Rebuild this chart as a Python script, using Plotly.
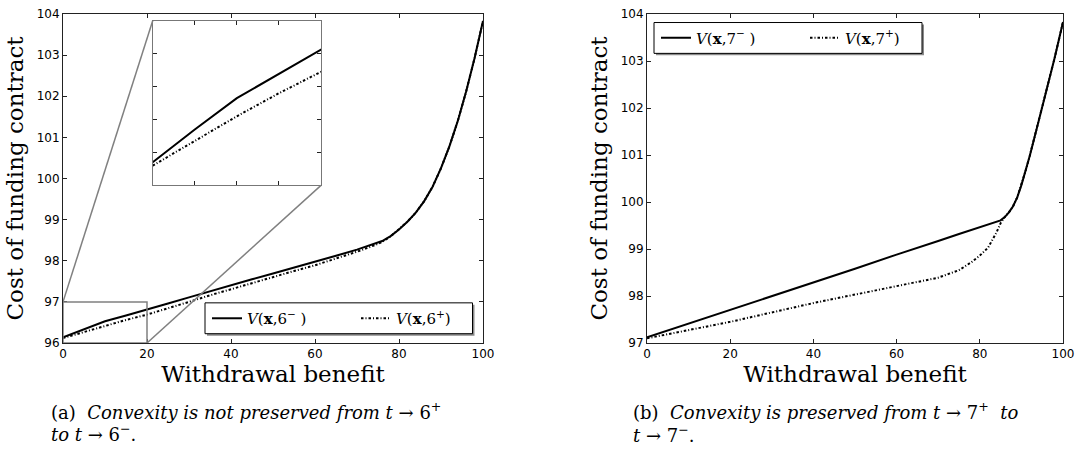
import plotly.graph_objects as go

# ---------------- data ----------------
x_a = [0, 5, 10, 15, 20, 25, 30, 35, 40, 45, 50, 55, 60, 65, 70, 74, 76, 78, 80, 82, 84, 86, 88, 90, 92, 94, 96, 98, 100]
v6_minus = [96.14, 96.34, 96.53, 96.67, 96.81, 96.96, 97.11, 97.26, 97.41, 97.55, 97.69, 97.83, 97.97, 98.12, 98.27,
            98.40, 98.48, 98.60, 98.76, 98.95, 99.17, 99.45, 99.80, 100.25, 100.78, 101.40, 102.12, 102.93, 103.83]
v6_plus = [96.12, 96.27, 96.42, 96.56, 96.69, 96.84, 97.00, 97.16, 97.31, 97.46, 97.60, 97.75, 97.89, 98.05, 98.22,
           98.37, 98.46, 98.59, 98.76, 98.95, 99.17, 99.45, 99.80, 100.25, 100.78, 101.40, 102.12, 102.93, 103.83]

x_b = [0, 10, 20, 30, 40, 50, 60, 65, 70, 75, 78, 80, 82, 84, 85, 86, 87, 88, 89, 90, 91, 92, 94, 96, 98, 100]
v7_minus = [97.12, 97.41, 97.70, 98.00, 98.29, 98.58, 98.88, 99.02, 99.17, 99.32, 99.41, 99.47, 99.52, 99.58, 99.61,
            99.68, 99.78, 99.91, 100.10, 100.36, 100.66, 100.98, 101.67, 102.36, 103.07, 103.83]
v7_plus = [97.10, 97.28, 97.45, 97.65, 97.85, 98.03, 98.22, 98.30, 98.39, 98.55, 98.72, 98.86, 99.03, 99.35, 99.55,
           99.68, 99.78, 99.91, 100.10, 100.36, 100.66, 100.98, 101.67, 102.36, 103.07, 103.83]

x_ticks = [0, 20, 40, 60, 80, 100]
y_ticks_a = [96, 97, 98, 99, 100, 101, 102, 103, 104]
y_ticks_b = [97, 98, 99, 100, 101, 102, 103, 104]
zoom_x = [0, 20]
zoom_y = [96, 97]

labels_a = ["<i>V</i>(<b>x</b>,6<sup>−</sup> )", "<i>V</i>(<b>x</b>,6<sup>+</sup>)"]
labels_b = ["<i>V</i>(<b>x</b>,7<sup>−</sup> )", "<i>V</i>(<b>x</b>,7<sup>+</sup>)"]

# ---------------- geometry helpers ----------------
W, H = 1081, 451
ML, MR, MT, MB = 63, 18, 7, 108
PW, PH = W - ML - MR, H - MT - MB


def X(px):
    return (px - ML) / PW


def Y(py):
    return (H - MB - py) / PH


dom_a = [0.0, 0.42]
dom_b = [0.584, 1.0]
dom_y = [0.0, 1.0]
inset_x = [X(152.7), X(321)]
inset_y = [Y(182), Y(14)]

DASH = "2.5px,2px,1px,2px"
SERIF = "DejaVu Serif"

fig = go.Figure()
fig.add_trace(go.Scatter(x=x_a, y=v6_minus, mode="lines", name=labels_a[0], line=dict(color="black", width=2),
                         xaxis="x", yaxis="y", legend="legend"))
fig.add_trace(go.Scatter(x=x_a, y=v6_plus, mode="lines", name=labels_a[1],
                         line=dict(color="black", width=2, dash=DASH), xaxis="x", yaxis="y", legend="legend"))
fig.add_trace(go.Scatter(x=x_b, y=v7_minus, mode="lines", name=labels_b[0], line=dict(color="black", width=2),
                         xaxis="x2", yaxis="y2", legend="legend2"))
fig.add_trace(go.Scatter(x=x_b, y=v7_plus, mode="lines", name=labels_b[1],
                         line=dict(color="black", width=2, dash=DASH), xaxis="x2", yaxis="y2", legend="legend2"))
# inset
fig.add_trace(go.Scatter(x=x_a, y=v6_minus, mode="lines", showlegend=False, line=dict(color="black", width=2),
                         xaxis="x3", yaxis="y3"))
fig.add_trace(go.Scatter(x=x_a, y=v6_plus, mode="lines", showlegend=False,
                         line=dict(color="black", width=2, dash=DASH), xaxis="x3", yaxis="y3"))

tickfont = dict(family="DejaVu Sans", size=12, color="black")
common = dict(showgrid=False, zeroline=False, showline=True, linecolor="#222", linewidth=1, mirror="ticks",
              ticks="inside", ticklen=4, tickwidth=1, tickcolor="#222", tickfont=tickfont)
title_font = dict(family=SERIF, size=23, color="black")

fig.update_layout(
    width=W, height=H, margin=dict(l=ML, r=MR, t=MT, b=MB),
    paper_bgcolor="white", plot_bgcolor="white",
    xaxis=dict(domain=dom_a, range=[0, 100], tickvals=x_ticks, anchor="y",
               title=dict(text="Withdrawal benefit", font=title_font, standoff=0), **common),
    yaxis=dict(domain=dom_y, range=[96, 104], tickvals=y_ticks_a, anchor="x",
               title=dict(text="Cost of funding contract", font=title_font, standoff=6), **common),
    xaxis2=dict(domain=dom_b, range=[0, 100], tickvals=x_ticks, anchor="y2",
                title=dict(text="Withdrawal benefit", font=title_font, standoff=0), **common),
    yaxis2=dict(domain=dom_y, range=[97, 104], tickvals=y_ticks_b, anchor="x2",
                title=dict(text="Cost of funding contract", font=title_font, standoff=6), **common),
    xaxis3=dict(domain=inset_x, range=zoom_x, dtick=5, anchor="y3", showticklabels=False,
                showgrid=False, zeroline=False, showline=True, linecolor="#777", linewidth=1, mirror="ticks",
                ticks="inside", ticklen=4, tickcolor="#222"),
    yaxis3=dict(domain=inset_y, range=zoom_y, dtick=0.2, anchor="x3", showticklabels=False,
                showgrid=False, zeroline=False, showline=True, linecolor="#777", linewidth=1, mirror="ticks",
                ticks="inside", ticklen=4, tickcolor="#222"),
    legend=dict(orientation="h", x=X(207), xanchor="left", y=Y(318), yanchor="middle",
                bgcolor="rgba(0,0,0,0)", borderwidth=0, entrywidthmode="pixels", entrywidth=104,
                font=dict(family=SERIF, size=15, color="black")),
    legend2=dict(orientation="h", x=X(656), xanchor="left", y=Y(31.5), yanchor="middle",
                 bgcolor="rgba(0,0,0,0)", borderwidth=0, entrywidthmode="pixels", entrywidth=104,
                 font=dict(family=SERIF, size=15, color="black")),
    showlegend=True,
)


# main-axes data coordinates of the inset corners
def inset_corner_data(fx, fy):
    xd = (fx - dom_a[0]) / (dom_a[1] - dom_a[0]) * 100
    yd = 96 + (fy - dom_y[0]) / (dom_y[1] - dom_y[0]) * 8
    return xd, yd


tl = inset_corner_data(inset_x[0], inset_y[1])
br = inset_corner_data(inset_x[1], inset_y[0])
gray = dict(color="#808080", width=1.5)
shapes = [
    dict(type="rect", xref="x", yref="y", x0=zoom_x[0], x1=zoom_x[1], y0=zoom_y[0], y1=zoom_y[1], line=gray),
    dict(type="line", xref="x", yref="y", x0=zoom_x[0], y0=zoom_y[1], x1=tl[0], y1=tl[1], line=gray),
    dict(type="line", xref="x", yref="y", x0=zoom_x[1], y0=zoom_y[0], x1=br[0], y1=br[1], line=gray),
]
# legend boxes with drop shadow
for (l, t, r, b) in [(205, 302, 472.5, 333.5), (654, 15.7, 922, 47.2)]:
    shapes.append(dict(type="rect", xref="paper", yref="paper", x0=X(l + 2), x1=X(r + 2), y0=Y(b + 2), y1=Y(t + 2),
                       line=dict(width=0), fillcolor="#8a8a8a", layer="above"))
    shapes.append(dict(type="rect", xref="paper", yref="paper", x0=X(l), x1=X(r), y0=Y(b), y1=Y(t),
                       line=dict(color="black", width=1), fillcolor="white", layer="above"))
fig.update_layout(shapes=shapes)

cap_font = dict(family=SERIF, size=18, color="black")
captions = [
    (49, 412, "(a)  <i>Convexity is not preserved from t</i> → 6<sup>+</sup>"),
    (49, 435, "<i>to t</i> → 6<sup>−</sup>."),
    (631, 412, "(b)  <i>Convexity is preserved from t</i> → 7<sup>+</sup>  <i>to</i>"),
    (631, 436, "<i>t</i> → 7<sup>−</sup>."),
]
for (px, py, txt) in captions:
    fig.add_annotation(text=txt, xref="paper", yref="paper", x=X(px), y=Y(py), xanchor="left", yanchor="middle",
                       showarrow=False, font=cap_font)

fig.write_html("out.html", config={"displayModeBar": False},
               post_script="document.body.style.margin='0';")
